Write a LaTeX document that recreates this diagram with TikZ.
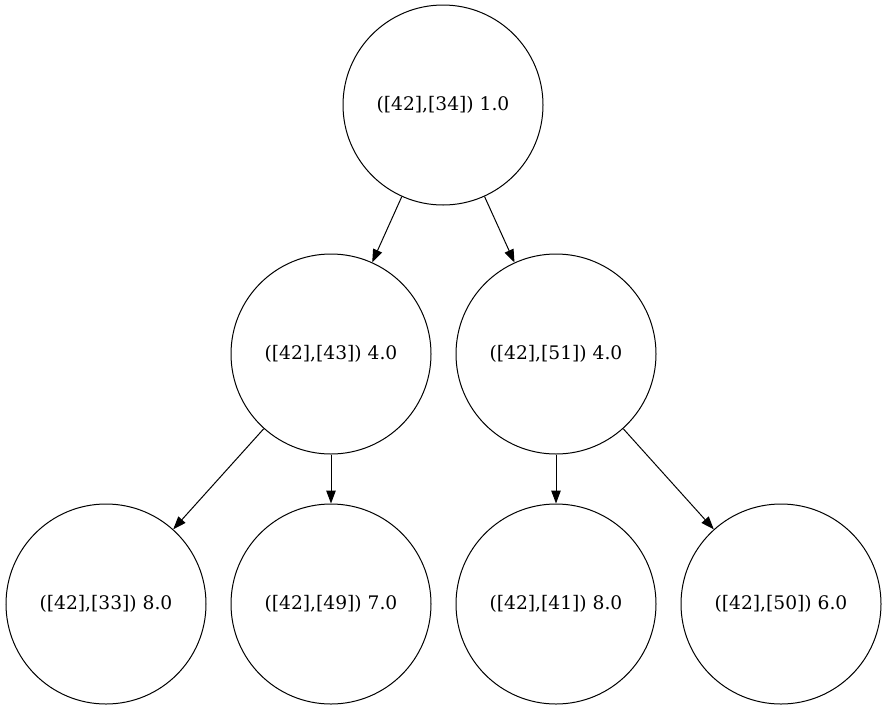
\documentclass[tikz,border=0pt]{standalone}
\usepackage{fontspec}
\setmainfont{DejaVu Serif}
\usetikzlibrary{arrows.meta}
\begin{document}
\begin{tikzpicture}[x=1pt,y=-1pt,
	state/.style={draw,circle,minimum size=200pt,inner sep=0pt,line width=1pt,font=\fontsize{18.67}{22}\selectfont},
	edge/.style={-{Triangle[length=13pt,width=9.5pt]},line width=1pt}]
		\useasboundingbox (0,0) rectangle (888,710);
		\node[state] (root) at (443,105) {([42],[34]) 1.0};
		\node[state] (l) at (331,354) {([42],[43]) 4.0};
		\node[state] (r) at (556,354) {([42],[51]) 4.0};
		\node[state] (ll) at (106,604) {([42],[33]) 8.0};
		\node[state] (lr) at (331,604) {([42],[49]) 7.0};
		\node[state] (rl) at (556,604) {([42],[41]) 8.0};
		\node[state] (rr) at (781,604) {([42],[50]) 6.0};
		\draw[edge] (root) -- (l);
		\draw[edge] (root) -- (r);
		\draw[edge] (l) -- (ll);
		\draw[edge] (l) -- (lr);
		\draw[edge] (r) -- (rl);
		\draw[edge] (r) -- (rr);
\end{tikzpicture}
\end{document}
